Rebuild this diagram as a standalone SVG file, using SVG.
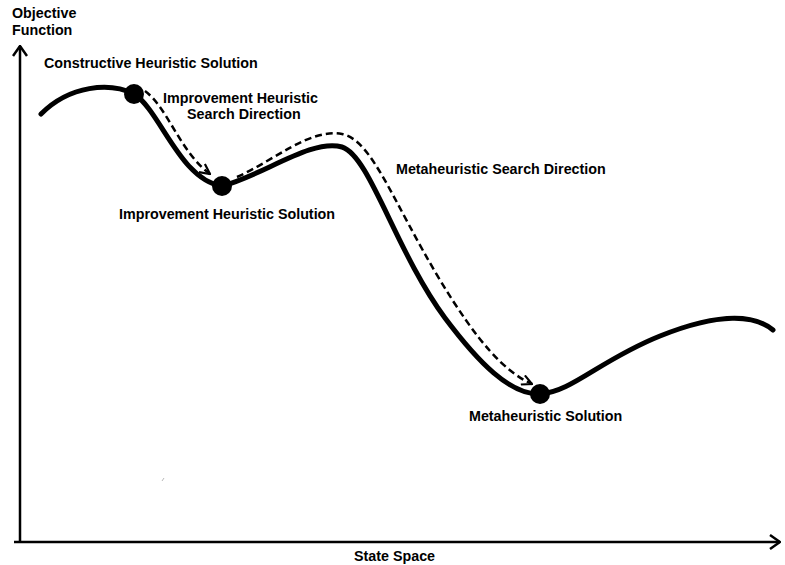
<svg xmlns="http://www.w3.org/2000/svg" width="785" height="565" viewBox="0 0 785 565">
  <style>
    .lbl { font-family: "Liberation Sans", Arial, sans-serif; font-weight: bold; font-size: 14.3px; fill: #000; }
    .axis { stroke: #000; stroke-width: 2.5; fill: none; }
    .curve { stroke: #000; stroke-width: 5; fill: none; stroke-linecap: round; stroke-linejoin: round; }
    .dash { stroke: #000; stroke-width: 2.5; fill: none; stroke-dasharray: 7 4; }
    .dot { fill: #000; }
  </style>
  <defs>
    <marker id="open" viewBox="0 0 12 12" refX="11" refY="6" markerWidth="12" markerHeight="12" markerUnits="userSpaceOnUse" orient="auto">
      <path d="M1,1 L11,6 L1,11" fill="none" stroke="#000" stroke-width="2.2"/>
    </marker>
    <marker id="axisHead" viewBox="0 0 12 16" refX="11" refY="8" markerWidth="12" markerHeight="16" markerUnits="userSpaceOnUse" orient="auto">
      <path d="M1,1 L11,8 L1,15" fill="none" stroke="#000" stroke-width="2.5"/>
    </marker>
  </defs>

  <!-- axes -->
  <g id="axes">
    <path class="axis" d="M20,542 L20,46" marker-end="url(#axisHead)"/>
    <path class="axis" d="M14,542 L780,542" marker-end="url(#axisHead)"/>
    <line x1="162" y1="481" x2="164" y2="478" stroke="#888" stroke-width="0.6"/>
  </g>

  <!-- objective landscape -->
  <g id="landscape">
    <path class="curve" d="M41,114 C70,85 110,82 134,94 C160,110 180,180 222,186 C262,176 312,138 342,147 C370,156 395,250 445,318 C478,362 510,395 540,394 C572,392 600,360 660,336 C720,312 755,315 773,330"/>
  </g>

  <g id="connectors">
    <path class="dash" d="M145,91 C168,108 180,152 210,174" marker-end="url(#open)"/>
    <path class="dash" d="M237,177 C275,160 310,128 342,134 C372,140 392,200 440,280 C478,343 505,372 532,384" marker-end="url(#open)"/>
  </g>

  <g id="constructive">
    <circle class="dot" cx="134" cy="94" r="10"/>
    <text class="lbl" x="44" y="68">Constructive Heuristic Solution</text>
  </g>
  <g id="improvement">
    <circle class="dot" cx="222" cy="186" r="10"/>
    <text class="lbl" x="119" y="219">Improvement Heuristic Solution</text>
  </g>
  <g id="metaheuristic">
    <circle class="dot" cx="540" cy="394" r="10"/>
    <text class="lbl" x="469" y="421">Metaheuristic Solution</text>
  </g>

  <g id="labels">
    <text class="lbl" x="12" y="18">Objective</text>
    <text class="lbl" x="12" y="35">Function</text>
    <text class="lbl" x="163" y="103">Improvement Heuristic</text>
    <text class="lbl" x="187" y="119">Search Direction</text>
    <text class="lbl" x="396" y="174">Metaheuristic Search Direction</text>
    <text class="lbl" x="354" y="561">State Space</text>
  </g>
</svg>
